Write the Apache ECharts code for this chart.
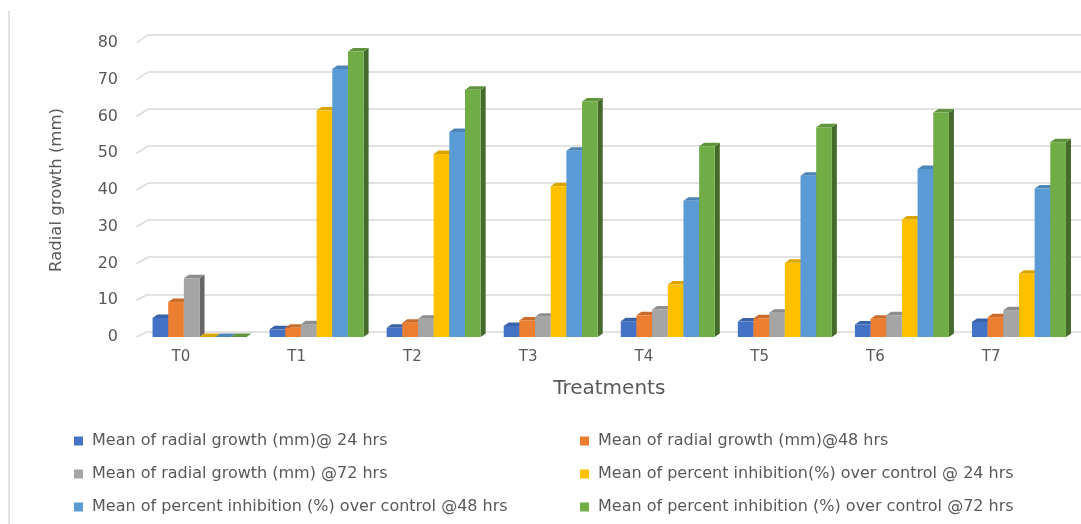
<!DOCTYPE html>
<html>
<head>
<meta charset="utf-8">
<title>Radial growth and percent inhibition by treatment</title>
<script src="https://cdn.jsdelivr.net/npm/echarts@6/dist/echarts.min.js"></script>
<style>
  html, body { margin: 0; padding: 0; background: #ffffff; }
  #chart { width: 1081px; height: 524px; }
</style>
</head>
<body>
<div id="chart"></div>
<script>
// ---- data ----
const categories = ['T0', 'T1', 'T2', 'T3', 'T4', 'T5', 'T6', 'T7'];
const seriesNames = [
  'Mean of radial growth (mm)@ 24 hrs',
  'Mean of radial growth (mm)@48 hrs',
  'Mean of radial growth (mm) @72 hrs',
  'Mean of percent inhibition(%) over control @ 24 hrs',
  'Mean of percent inhibition (%) over control @48 hrs',
  'Mean of percent inhibition (%) over control @72 hrs'
];
const growth24 = [5.2, 2.1, 2.5, 3.0, 4.3, 4.2, 3.4, 4.1];
const growth48 = [9.5, 2.5, 3.9, 4.5, 5.9, 5.1, 5.0, 5.4];
const growth72 = [16.0, 3.5, 5.0, 5.5, 7.5, 6.6, 5.9, 7.3];
const inhibition24 = [0, 61.6, 49.8, 41.0, 14.3, 20.2, 32.0, 17.2];
const inhibition48 = [0, 72.9, 55.8, 50.7, 37.1, 43.9, 45.7, 40.4];
const inhibition72 = [0, 77.7, 67.3, 64.1, 51.9, 57.1, 61.1, 53.0];
const yMin = 0, yMax = 80, yInterval = 10;

const seriesValues = [growth24, growth48, growth72, inhibition24, inhibition48, inhibition72];
const palette = ['#4472C4', '#ED7D31', '#A5A5A5', '#FFC000', '#5B9BD5', '#70AD47'];

// ---- layout / style ----
const TEXT = '#595959';
const GRID_LINE = '#d9d9d9';
const FONT = 'DejaVu Sans';
const front = { left: 141, top: 43, width: 936.5, height: 294 };   // plane of the bar faces
const back = { left: 148, top: 35, right: 0, height: 296.3 };       // back wall with gridlines
const labelsPlane = { left: 123, top: 43, width: 926, height: 294 }; // category labels on the floor edge
const CLUSTER_RATIO = 0.803;
const DEPTH_X = 5, DEPTH_Y = 3.5;

function shade(hex, k) {
  const n = parseInt(hex.slice(1), 16);
  const r = Math.round(((n >> 16) & 255) * k);
  const g = Math.round(((n >> 8) & 255) * k);
  const b = Math.round((n & 255) * k);
  return 'rgb(' + r + ',' + g + ',' + b + ')';
}

// Draws one column as a box: front face, top face and right side face.
function boxRenderer(si, color) {
  const side = shade(color, 0.62);
  const topc = shade(color, 0.86);
  return function (params, api) {
    const cat = api.value(0);
    const val = api.value(1);
    const base = api.coord([cat, 0]);
    const top = api.coord([cat, val]);
    const band = api.size([1, 0])[0];
    const cluster = band * CLUSTER_RATIO;
    const w = cluster / seriesValues.length;
    const x = base[0] - cluster / 2 + si * w;
    const y0 = base[1], y1 = top[1];
    return {
      type: 'group',
      children: [
        { type: 'polygon', shape: { points: [[x + w, y1], [x + w + DEPTH_X, y1 - DEPTH_Y], [x + w + DEPTH_X, y0 - DEPTH_Y], [x + w, y0]] }, style: { fill: side } },
        { type: 'polygon', shape: { points: [[x, y1], [x + DEPTH_X, y1 - DEPTH_Y], [x + w + DEPTH_X, y1 - DEPTH_Y], [x + w, y1]] }, style: { fill: topc } },
        { type: 'rect', shape: { x: x, y: y1, width: w, height: Math.max(0, y0 - y1) }, style: { fill: color } }
      ]
    };
  };
}

const series = seriesValues.map(function (vals, si) {
  return {
    name: seriesNames[si],
    type: 'custom',
    xAxisIndex: 0,
    yAxisIndex: 0,
    renderItem: boxRenderer(si, palette[si]),
    itemStyle: { color: palette[si] },
    encode: { x: 0, y: 1 },
    data: vals.map(function (v, i) { return [i, v]; }),
    z: 3
  };
});

// One legend block per entry, laid out in two columns and three rows.
const legendCols = [74, 580];
const legendRows = [433, 466, 499];
const legends = seriesNames.map(function (name, i) {
  const row = Math.floor(i / 2), col = i % 2;
  return {
    data: [name],
    left: legendCols[col],
    top: legendRows[row],
    padding: 0,
    itemWidth: 9,
    itemHeight: 9,
    icon: 'rect',
    selectedMode: false,
    textStyle: { color: TEXT, fontFamily: FONT, fontSize: 16, padding: [0, 0, 0, 4] }
  };
});

const chart = echarts.init(document.getElementById('chart'), null, { renderer: 'canvas' });

chart.setOption({
  animation: false,
  backgroundColor: '#ffffff',
  color: palette,
  legend: legends,
  grid: [
    { left: front.left, top: front.top, width: front.width, height: front.height },
    { left: back.left, top: back.top, right: back.right, height: back.height },
    { left: labelsPlane.left, top: labelsPlane.top, width: labelsPlane.width, height: labelsPlane.height }
  ],
  xAxis: [
    {
      gridIndex: 0, type: 'category', data: categories,
      axisLine: { show: false }, axisTick: { show: false }, axisLabel: { show: false },
      name: 'Treatments', nameLocation: 'middle', nameGap: 42,
      nameTextStyle: { color: TEXT, fontFamily: FONT, fontSize: 20 }
    },
    { gridIndex: 1, type: 'value', min: 0, max: 1, show: false },
    {
      gridIndex: 2, type: 'category', data: categories,
      axisLine: { show: false }, axisTick: { show: false },
      axisLabel: { color: TEXT, fontFamily: FONT, fontSize: 15, margin: 13 }
    }
  ],
  yAxis: [
    {
      gridIndex: 0, type: 'value', min: yMin, max: yMax, interval: yInterval,
      axisLine: { show: false }, axisTick: { show: false }, splitLine: { show: false },
      axisLabel: { color: TEXT, fontFamily: FONT, fontSize: 16, margin: 23 },
      name: 'Radial growth (mm)', nameLocation: 'middle', nameRotate: 90, nameGap: 76,
      nameTextStyle: { color: TEXT, fontFamily: FONT, fontSize: 16.5 }
    },
    {
      gridIndex: 1, type: 'value', min: yMin, max: yMax, interval: yInterval,
      axisLine: { show: false }, axisTick: { show: false }, axisLabel: { show: false },
      splitLine: { show: true, lineStyle: { color: GRID_LINE, width: 1.5 } }
    },
    { gridIndex: 2, type: 'value', min: yMin, max: yMax, show: false }
  ],
  series: series
});

// Side-wall edges: short slanted lines joining each front tick to its back-wall gridline.
const edges = [{
  type: 'line',
  shape: { x1: 9, y1: 11, x2: 9, y2: 524 },
  style: { stroke: GRID_LINE, lineWidth: 1.5 }
}];
for (let v = yMin; v <= yMax; v += yInterval) {
  const f = chart.convertToPixel({ xAxisIndex: 0, yAxisIndex: 0 }, [0, v]);
  const b = chart.convertToPixel({ xAxisIndex: 1, yAxisIndex: 1 }, [0, v]);
  edges.push({
    type: 'line',
    shape: { x1: front.left - 4.5, y1: f[1], x2: b[0], y2: b[1] },
    style: { stroke: GRID_LINE, lineWidth: 1.5 },
    z: 1
  });
}
chart.setOption({ graphic: edges });
</script>
</body>
</html>
